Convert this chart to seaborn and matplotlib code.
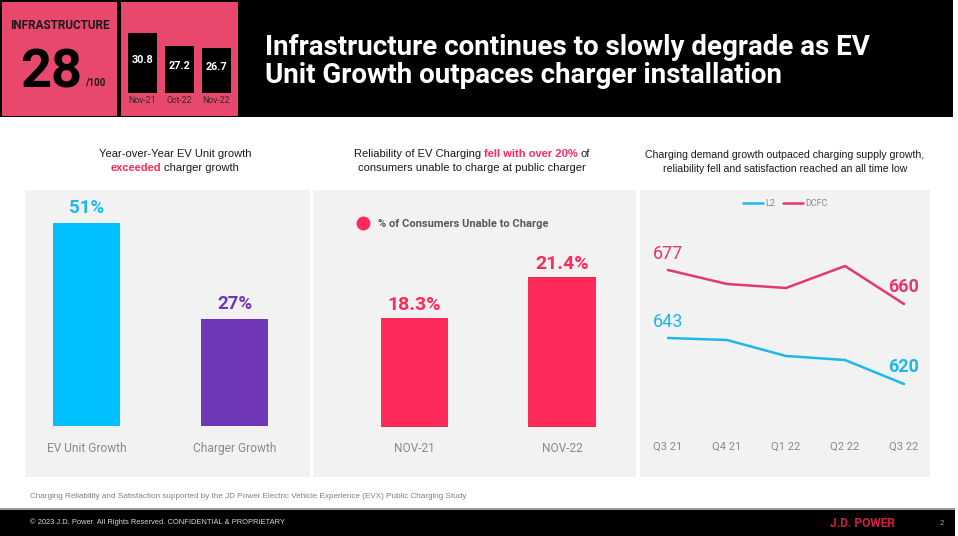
import numpy as np
import pandas as pd
import matplotlib
matplotlib.use("Agg")
import matplotlib.pyplot as plt
from matplotlib.patches import Rectangle
from matplotlib.lines import Line2D
import seaborn as sns

# ---------------- data ----------------
index_periods = ["Nov-21", "Oct-22", "Nov-22"]
index_scores = [30.8, 27.2, 26.7]
current_score = 28

growth_cats = ["EV Unit Growth", "Charger Growth"]
growth_vals = [51, 27]

unable_periods = ["NOV-21", "NOV-22"]
unable_vals = [18.3, 21.4]

quarters = ["Q3 21", "Q4 21", "Q1 22", "Q2 22", "Q3 22"]
l2_vals = [643, 642, 634, 632, 620]
dcfc_vals = [677, 670, 668, 679, 660]

# ---------------- style ----------------
sns.set_style("white")
plt.rcParams["font.family"] = ["Roboto", "DejaVu Sans"]

W, H = 958, 536
fig = plt.figure(figsize=(W / 100, H / 100), dpi=100)
fig.patch.set_facecolor("white")

PINK_HDR = "#E8486B"
CYAN = "#00BFFF"
CYAN_T = "#22B8EA"
PURPLE = "#7038B8"
RED = "#FF2A5C"
LINE_PINK = "#E5386D"
LINE_CYAN = "#1DB8EA"
PANEL = "#F2F2F2"
TICK_GRAY = "#8A8A8A"


def fx(x):
    return x / W


def fy(y):
    return 1 - y / H


def add_ax(x0, y0, x1, y1):
    ax = fig.add_axes([x0 / W, 1 - y1 / H, (x1 - x0) / W, (y1 - y0) / H])
    ax.set_facecolor("none")
    return ax


def rect(x0, y0, x1, y1, color, z=0):
    fig.add_artist(Rectangle((fx(x0), fy(y1)), (x1 - x0) / W, (y1 - y0) / H,
                             transform=fig.transFigure, color=color, zorder=z, lw=0))


def clean(ax):
    for s in ax.spines.values():
        s.set_visible(False)
    ax.set_yticks([])
    ax.set_xlabel("")
    ax.set_ylabel("")


# ---------------- backgrounds ----------------
rect(0, 0, 953, 117, "black")
rect(2, 2, 117, 116, PINK_HDR, 1)
rect(121, 2, 238, 116, PINK_HDR, 1)
rect(25, 190, 310, 477, PANEL)
rect(313, 190, 636, 477, PANEL)
rect(640, 190, 930, 477, PANEL)
rect(0, 509, 955, 536, "black")
rect(0, 508, 955, 509.5, "#9A9A9A", 1)

# ---------------- header ----------------
fig.text(fx(60), fy(29), "INFRASTRUCTURE", ha="center", va="baseline",
         fontsize=8.5, fontweight="bold", color="#1A1A1A", zorder=3)
fig.text(fx(51.5), fy(88), f"{current_score}", ha="center", va="baseline",
         fontsize=39, fontweight="bold", color="black", zorder=3)
fig.text(fx(85), fy(86), "/100", ha="left", va="baseline",
         fontsize=7, fontweight="bold", color="#1A1A1A", zorder=3)

ax0 = add_ax(124, 20, 235, 93)
ax0.set_zorder(3)
sns.barplot(x=index_periods, y=index_scores, color="black", width=0.78,
            saturation=1, linewidth=0, edgecolor="none", ax=ax0)
base0 = 13.7
ax0.set_xlim(-0.5, 2.5)
ax0.set_ylim(base0, 34.6)
clean(ax0)
ax0.tick_params(axis="x", length=0, pad=2, labelsize=6.3, labelcolor="#2A2A2A")
for i, v in enumerate(index_scores):
    ax0.annotate(f"{v}", xy=(i, (v + base0) / 2), xytext=(0, 2.5),
                 textcoords="offset points", ha="center", va="center",
                 fontsize=7.8, fontweight="bold", color="white")

fig.text(fx(265), fy(55), "Infrastructure continues to slowly degrade as EV",
         ha="left", va="baseline", fontsize=20, fontweight="bold", color="white", zorder=3)
fig.text(fx(265), fy(83), "Unit Growth outpaces charger installation",
         ha="left", va="baseline", fontsize=20, fontweight="bold", color="white", zorder=3)

# ---------------- rich titles ----------------
renderer = fig.canvas.get_renderer()
TITLE_FONT = ["Liberation Sans", "DejaVu Sans"]


def rich_line(xc, y, parts, fontsize):
    ts, ws = [], []
    for s, c, w in parts:
        t = fig.text(0, fy(y), s, ha="left", va="baseline", fontsize=fontsize,
                     color=c, fontweight=w, family=TITLE_FONT, zorder=3)
        ts.append(t)
        ws.append(t.get_window_extent(renderer).width)
    sp = fig.text(0, 0, "x x", fontsize=fontsize, family=TITLE_FONT)
    sp2 = fig.text(0, 0, "xx", fontsize=fontsize, family=TITLE_FONT)
    space = sp.get_window_extent(renderer).width - sp2.get_window_extent(renderer).width
    sp.remove()
    sp2.remove()
    total = sum(ws) + space * (len(ws) - 1)
    x = xc - total / 2
    for t, w in zip(ts, ws):
        t.set_x(fx(x))
        x += w + space


DARK = "#1A1A1A"
rich_line(175, 157, [("Year-over-Year EV Unit growth", DARK, "normal")], 8)
rich_line(175, 171, [("exceeded", RED, "bold"), ("charger growth", DARK, "normal")], 8)
rich_line(472, 157, [("Reliability of EV Charging", DARK, "normal"),
                     ("fell with over 20%", RED, "bold"), ("of", DARK, "normal")], 8)
rich_line(472, 171, [("consumers unable to charge at public charger", DARK, "normal")], 8)
rich_line(785, 158, [("Charging demand growth outpaced charging supply growth,", DARK, "normal")], 7.6)
rich_line(785, 172, [("reliability fell and satisfaction reached an all time low", DARK, "normal")], 7.6)

# ---------------- panel 1 ----------------
ax1 = add_ax(12.5, 190, 308.5, 426)
sns.barplot(x=growth_cats, y=growth_vals, hue=growth_cats, palette=[CYAN, PURPLE],
            width=0.45, saturation=1, legend=False, linewidth=0, edgecolor="none", ax=ax1)
ax1.set_xlim(-0.5, 1.5)
ax1.set_ylim(0, 59.3)
clean(ax1)
ax1.tick_params(axis="x", length=0, pad=11.5, labelsize=8.6, labelcolor=TICK_GRAY)
for i, (v, c) in enumerate(zip(growth_vals, [CYAN_T, PURPLE])):
    ax1.annotate(f"{v}%", xy=(i, v), xytext=(0, 7), textcoords="offset points",
                 ha="center", va="baseline", fontsize=13.5, fontweight="bold", color=c)

# ---------------- panel 2 ----------------
ax2 = add_ax(340.75, 190, 635.75, 427)
sns.barplot(x=unable_periods, y=unable_vals, color=RED, width=0.455,
            saturation=1, linewidth=0, edgecolor="none", ax=ax2)
ax2.set_xlim(-0.5, 1.5)
ax2.set_ylim(10.06, 27.97)
clean(ax2)
ax2.tick_params(axis="x", length=0, pad=11, labelsize=8.6, labelcolor=TICK_GRAY)
for i, v in enumerate(unable_vals):
    ax2.annotate(f"{v}%", xy=(i, v), xytext=(0, 6), textcoords="offset points",
                 ha="center", va="baseline", fontsize=14, fontweight="bold", color=RED)
ax2.legend(handles=[Line2D([], [], marker="o", ls="", color=RED, ms=9)],
           labels=["% of Consumers Unable to Charge"], loc="center left",
           bbox_to_anchor=(fx(357), fy(224)), bbox_transform=fig.transFigure,
           frameon=False, handlelength=1, handletextpad=0.9, borderpad=0,
           borderaxespad=0, prop={"size": 8, "weight": "bold"}, labelcolor="#595959")

# ---------------- panel 3 ----------------
df = pd.DataFrame({
    "quarter": quarters * 2,
    "pos": list(range(len(quarters))) * 2,
    "score": l2_vals + dcfc_vals,
    "type": ["L2"] * len(quarters) + ["DCFC"] * len(quarters),
})
ax3 = add_ax(640, 190, 930, 426)
sns.lineplot(data=df, x="pos", y="score", hue="type", hue_order=["L2", "DCFC"],
             palette=[LINE_CYAN, LINE_PINK], linewidth=1.8, ax=ax3)
ax3.set_xlim(-28 / 59, 4 + 26 / 59)
ax3.set_ylim(599, 717)
clean(ax3)
ax3.set_xticks(range(len(quarters)))
ax3.set_xticklabels(quarters)
ax3.tick_params(axis="x", length=0, pad=11.5, labelsize=8, labelcolor="#8A8A8A")
handles, labels = ax3.get_legend_handles_labels()
for h in handles:
    h.set_linewidth(1.8)
ax3.legend(handles, labels, loc="center left", bbox_to_anchor=(fx(743), fy(204)),
           bbox_transform=fig.transFigure, frameon=False, ncol=2, handlelength=2.2,
           handletextpad=0.25, columnspacing=0.9, borderpad=0, borderaxespad=0,
           prop={"size": 6.5}, labelcolor=TICK_GRAY)
for vals, col in [(l2_vals, LINE_CYAN), (dcfc_vals, LINE_PINK)]:
    ax3.annotate(f"{vals[0]}", xy=(0, vals[0]), xytext=(0, 8), textcoords="offset points",
                 ha="center", va="baseline", fontsize=13, color=col)
    ax3.annotate(f"{vals[-1]}", xy=(len(vals) - 1, vals[-1]), xytext=(0, 8.5),
                 textcoords="offset points", ha="center", va="baseline",
                 fontsize=13, fontweight="bold", color=col)

# ---------------- footer ----------------
fig.text(fx(30), fy(498), "Charging Reliability and Satisfaction supported by the JD Power "
         "Electric Vehicle Experience (EVX) Public Charging Study", ha="left", va="baseline",
         fontsize=5.9, color="#808080", family=TITLE_FONT)
fig.text(fx(30), fy(524), "© 2023 J.D. Power. All Rights Reserved. CONFIDENTIAL & PROPRIETARY",
         ha="left", va="baseline", fontsize=5.4, color="#D9D9D9", family=TITLE_FONT, zorder=3)
fig.text(fx(895), fy(527), "J.D. POWER", ha="right", va="baseline", fontsize=8.6,
         fontweight="bold", color="#D21F3F", zorder=3)
fig.text(fx(942), fy(525), "2", ha="center", va="baseline", fontsize=5.5,
         color="#A0A0A0", zorder=3)

fig.savefig("out.png", dpi=100, facecolor="white")
